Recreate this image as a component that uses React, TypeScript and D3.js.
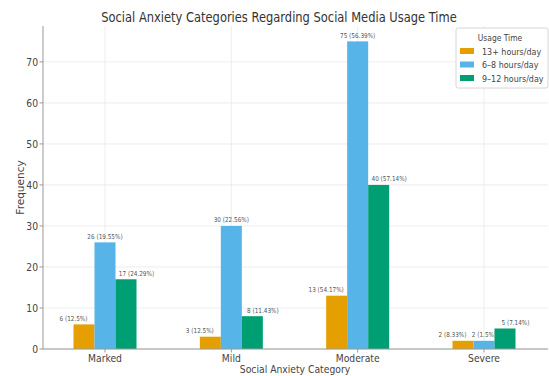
import React from "react";
import * as d3 from "d3";

const categories = ["Marked", "Mild", "Moderate", "Severe"];
const series = ["13+ hours/day", "6-8 hours/day", "9-12 hours/day"];
const seriesLabels = ["13+ hours/day", "6–8 hours/day", "9–12 hours/day"];
const values13 = [6, 3, 13, 2];
const values68 = [26, 30, 75, 2];
const values912 = [17, 8, 40, 5];
const pct13 = ["12.5%", "12.5%", "54.17%", "8.33%"];
const pct68 = ["19.55%", "22.56%", "56.39%", "1.5%"];
const pct912 = ["24.29%", "11.43%", "57.14%", "7.14%"];
const yTicks = [0, 10, 20, 30, 40, 50, 60, 70];
const colors = ["#E69F00", "#56B4E9", "#009E73"];

const W = 549;
const H = 376;
const left = 43;
const right = 548;
const top = 26;
const bottom = 349;
const SX = 0.84;

function T(props: { x: number; y: number; size: number; fill?: string; anchor?: string; sx?: number; children: React.ReactNode }) {
  const { x, y, size, fill = "#444", anchor = "start", sx = SX, children } = props;
  return (
    <text transform={`translate(${x},${y}) scale(${sx},1)`} fontSize={size} fill={fill} textAnchor={anchor as any}>
      {children}
    </text>
  );
}

export default function App() {
  const allValues = [values13, values68, values912];
  const allPct = [pct13, pct68, pct912];
  const x = d3.scalePoint<string>().domain(categories).range([105, 484]);
  const inner = d3.scaleBand<string>().domain(series).range([-31.5, 31.5]).padding(0);
  const y = d3.scaleLinear().domain([0, 78.75]).range([bottom, top]);
  const font = "DejaVu Sans, sans-serif";
  return (
    <svg width={W} height={H} style={{ position: "absolute", left: 0, top: 0, background: "#fff" }} fontFamily={font}>
      <rect width={W} height={H} fill="#fff" />
      {/* grid */}
      {yTicks.map((t) => (
        <line key={"gy" + t} x1={left} x2={right} y1={y(t)} y2={y(t)} stroke="#e8e8e8" strokeWidth={0.8} />
      ))}
      {categories.map((c) => (
        <line key={"gx" + c} x1={x(c)} x2={x(c)} y1={top} y2={bottom} stroke="#e8e8e8" strokeWidth={0.8} />
      ))}
      {/* bars */}
      {allValues.map((vals, si) =>
        vals.map((v, ci) => {
          const cx = (x(categories[ci]) as number) + (inner(series[si]) as number);
          const bw = inner.bandwidth();
          const lx = cx + bw / 2 + (si - 1) * (bw / 2);
          return (
            <g key={si + "-" + ci}>
              <rect x={cx} y={y(v)} width={bw} height={bottom - y(v)} fill={colors[si]} />
              <T x={lx} y={y(v) - 3.5} size={6.8} fill="#555" anchor="middle">
                {v} ({allPct[si][ci]})
              </T>
            </g>
          );
        })
      )}
      {/* spines */}
      <line x1={left} x2={left} y1={top} y2={bottom} stroke="#999" strokeWidth={1} />
      <line x1={left} x2={right} y1={bottom} y2={bottom} stroke="#999" strokeWidth={1} />
      {/* y ticks */}
      {yTicks.map((t) => (
        <g key={"yt" + t}>
          <line x1={left - 3.5} x2={left} y1={y(t)} y2={y(t)} stroke="#999" />
          <T x={left - 5} y={y(t) + 4} size={11} anchor="end">
            {t}
          </T>
        </g>
      ))}
      {/* x ticks */}
      {categories.map((c) => (
        <g key={"xt" + c}>
          <line x1={x(c)} x2={x(c)} y1={bottom} y2={bottom + 3.5} stroke="#999" />
          <T x={x(c) as number} y={bottom + 13} size={11} anchor="middle">
            {c}
          </T>
        </g>
      ))}
      {/* axis labels */}
      <T x={295} y={373} size={11} anchor="middle">
        Social Anxiety Category
      </T>
      <text transform={`translate(24, ${(top + bottom) / 2}) rotate(-90)`} fontSize={10.5} fill="#444" textAnchor="middle">
        Frequency
      </text>
      {/* title */}
      <T x={279} y={22} size={14} fill="#333" anchor="middle" sx={0.82}>
        Social Anxiety Categories Regarding Social Media Usage Time
      </T>
      {/* legend */}
      <g>
        <rect x={456} y={28} width={92} height={60} rx={2} fill="#fff" fillOpacity={0.9} stroke="#ccc" strokeWidth={0.8} />
        <T x={500} y={41} size={9} anchor="middle">
          Usage Time
        </T>
        {seriesLabels.map((s, i) => (
          <g key={s}>
            <rect x={460} y={48 + i * 13.5} width={14} height={6} fill={colors[i]} />
            <T x={482} y={54.5 + i * 13.5} size={9.5}>
              {s}
            </T>
          </g>
        ))}
      </g>
    </svg>
  );
}
